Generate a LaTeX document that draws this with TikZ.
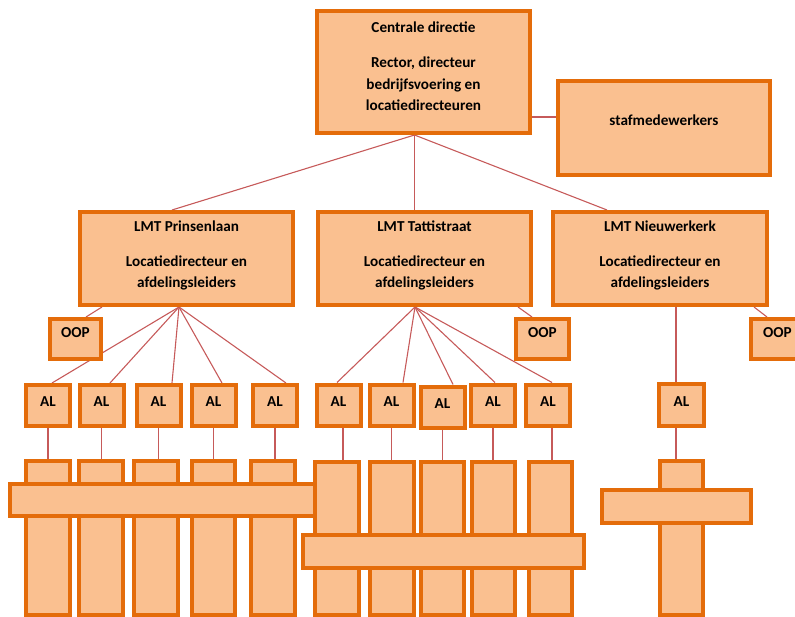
\documentclass[tikz,border=0pt]{standalone}
\usepackage{fontspec}
\setmainfont{Carlito}
\usetikzlibrary{calc,backgrounds}
\definecolor{boxfill}{HTML}{FAC090}
\definecolor{boxline}{HTML}{E46C0A}
\definecolor{linkc}{HTML}{C65A5A}
\begin{document}
\begin{tikzpicture}[x=1bp,y=-1bp,
  box/.style={draw=boxline,fill=boxfill,line width=4bp,inner sep=0pt,
    font=\bfseries\fontsize{15.2bp}{21.5bp}\selectfont,align=center,text=black},
  bar/.style={draw=boxline,fill=boxfill,line width=4bp,inner sep=0pt},
  link/.style={draw=linkc,line width=1.1bp},
  albox/.style={box,minimum width=44bp,minimum height=41bp,text depth=7bp},
  oopbox/.style={box,minimum width=51bp,minimum height=40bp,text depth=13bp},
  lmt/.style={box,minimum width=213bp,minimum height=93bp,text depth=9bp},
  vbar/.style={bar,minimum width=44bp,minimum height=154bp}]
\useasboundingbox (0,0) rectangle (795,617);
% top
\node[box,minimum width=213bp,minimum height=122bp,text depth=12bp] (cd) at (423.5,72)
  {Centrale directie\\[14bp]Rector, directeur\\bedrijfsvoering en\\locatiedirecteuren};
\node[box,minimum width=212bp,minimum height=94bp,text depth=16bp] (staf) at (664,128) {stafmedewerkers};
% LMT
\node[lmt] (lp) at (186.5,258.5) {LMT Prinsenlaan\\[13.5bp]Locatiedirecteur en\\afdelingsleiders};
\node[lmt] (lt) at (424.5,258.5) {LMT Tattistraat\\[13.5bp]Locatiedirecteur en\\afdelingsleiders};
\node[lmt,minimum width=214bp] (ln) at (660,258.5) {LMT Nieuwerkerk\\[13.5bp]Locatiedirecteur en\\afdelingsleiders};
% OOP
\node[oopbox] (oop1) at (75.5,339) {OOP};
\node[oopbox,minimum width=53bp] (oop2) at (542.5,339) {OOP};
\node[oopbox,minimum width=53bp] (oop3) at (777.5,339) {OOP};
% AL left
\node[albox] (a1) at (48,405.5) {AL};
\node[albox] (a2) at (101.5,405.5) {AL};
\node[albox] (a3) at (158.5,405.5) {AL};
\node[albox] (a4) at (213.5,405.5) {AL};
\node[albox] (a5) at (275,405.5) {AL};
% AL middle
\node[albox] (b1) at (338.5,405) {AL};
\node[albox] (b2) at (391.5,405) {AL};
\node[albox] (b3) at (442.5,407) {AL};
\node[albox] (b4) at (493,405) {AL};
\node[albox] (b5) at (548,405) {AL};
% AL right
\node[albox,minimum width=45bp,minimum height=42bp] (ar) at (681.5,405) {AL};
% vertical bars left
\node[vbar] (v1) at (48,538) {};
\node[vbar] (v2) at (101,538) {};
\node[vbar] (v3) at (156,538) {};
\node[vbar,minimum width=43bp] (v4) at (213.5,538) {};
\node[vbar] (v5) at (273,538) {};
% vertical bars middle
\node[vbar,minimum height=153bp] (w1) at (337,538.5) {};
\node[vbar,minimum height=153bp] (w2) at (392,538.5) {};
\node[vbar,minimum width=43bp,minimum height=153bp] (w3) at (442.5,538.5) {};
\node[vbar,minimum width=43bp,minimum height=153bp] (w4) at (493.5,538.5) {};
\node[vbar,minimum width=43bp,minimum height=153bp] (w5) at (550.5,538.5) {};
% vertical bar right
\node[vbar,minimum width=43bp] (r1) at (681.5,538) {};
% horizontal bars
\node[bar,minimum width=305bp,minimum height=32bp] (hl) at (162.5,500) {};
\node[bar,minimum width=281bp,minimum height=33bp] (hm) at (443.5,551.5) {};
\node[bar,minimum width=149bp,minimum height=33bp] (hr) at (676.5,506.5) {};
% connectors
\begin{scope}[on background layer]
\coordinate (cdb) at ($(cd.south)+(-9,0)$);
\draw[link] (cdb) -- ($(lp.north)+(-14.5,0)$);
\draw[link] (cdb) -- (cdb |- lt.north);
\draw[link] (cdb) -- ($(ln.north)+(-53,0)$);
\draw[link] ($(cd.east)+(0,45)$) -- ($(staf.west)+(0,-11)$);
% Prinsenlaan
\coordinate (lpb) at ($(lp.south)+(-7.5,0)$);
\draw[link] ($(lp.south west)+(24,0)$) -- ($(oop1.north)+(10.5,0)$);
\draw[link] (lpb) -- ($(a1.north)+(4,0)$);
\draw[link] (lpb) -- ($(a2.north)+(8.5,0)$);
\draw[link] (lpb) -- ($(a3.north)+(13.5,0)$);
\draw[link] (lpb) -- ($(a4.north)+(8.5,0)$);
\draw[link] (lpb) -- ($(a5.north)+(11,0)$);
% Tattistraat
\coordinate (ltb) at ($(lt.south)+(-9.5,0)$);
\draw[link] ($(lt.south east)+(-15,0)$) -- ($(oop2.north)+(-10.5,0)$);
\draw[link] (ltb) -- ($(b1.north)+(-1.5,0)$);
\draw[link] (ltb) -- ($(b2.north)+(11.5,0)$);
\draw[link] (ltb) -- ($(b3.north)+(10.5,0)$);
\draw[link] (ltb) -- ($(b4.north)+(2,0)$);
\draw[link] (ltb) -- ($(b5.north)+(4,0)$);
% Nieuwerkerk
\draw[link] ($(ln.south east)+(-15,0)$) -- ($(oop3.north)+(-10.5,0)$);
\coordinate (arl) at ($(ar.north)+(-5.5,0)$);
\draw[link] (arl) -- (arl |- ln.south);
\draw[link] (arl |- ar.south) -- (arl |- r1.north);
% AL to bars
\foreach \a/\v in {a1/v1,a2/v2,a3/v3,a4/v4,a5/v5,b2/w2,b3/w3,b4/w4}
  \draw[link] (\a.south) -- (\a.south |- \v.north);
\coordinate (b1x) at ($(b1.south)+(4.5,0)$);
\draw[link] (b1x) -- (b1x |- w1.north);
\coordinate (b5x) at ($(b5.south)+(4,0)$);
\draw[link] (b5x) -- (b5x |- w5.north);
\end{scope}
\end{tikzpicture}
\end{document}
